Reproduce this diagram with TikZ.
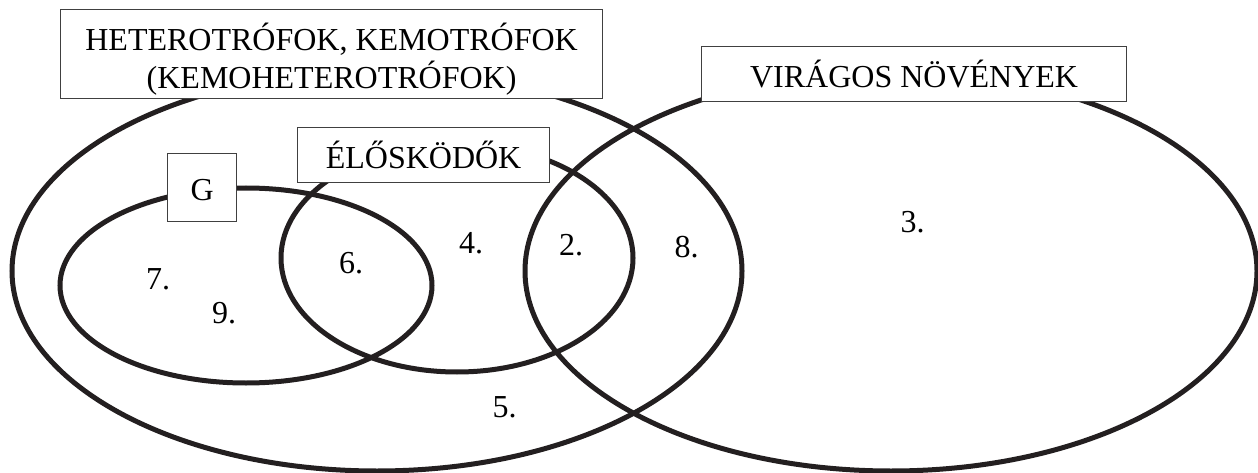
\documentclass[tikz,border=0pt]{standalone}
\usepackage{fontspec}
\setmainfont{Liberation Serif}
\usetikzlibrary{shapes.geometric}
\definecolor{ink}{HTML}{231F20}
\definecolor{frame}{HTML}{404040}
\begin{document}
\begin{tikzpicture}[x=1pt,y=-1pt,
  set/.style={draw=ink, line width=5pt, ellipse, inner sep=0pt},
  labelbox/.style={draw=frame, line width=1.2pt, fill=white, inner sep=0pt,
    font=\fontsize{32}{38}\selectfont, anchor=north west},
  num/.style={font=\fontsize{32}{38}\selectfont, anchor=base, inner sep=0pt}]
\useasboundingbox (0,0) rectangle (1258,473);
% sets
\node[set, minimum width=730pt, minimum height=400pt] (het) at (377,271) {};
\node[set, minimum width=732pt, minimum height=400pt] (vir) at (891,271) {};
\node[set, minimum width=352pt, minimum height=228pt] (elo) at (457,258) {};
\node[set, minimum width=372pt, minimum height=195pt] (g) at (246,285.5) {};
% label boxes
\node[labelbox, align=center, minimum width=542pt, minimum height=89pt] (hetbox) at (60,9)
  {\rule{0pt}{41pt}HETEROTRÓFOK, KEMOTRÓFOK\\(KEMOHETEROTRÓFOK)\rule[-10pt]{0pt}{10pt}};
\node[labelbox, minimum width=425pt, minimum height=55pt, text height=41pt, text depth=14pt] (virbox) at (701,46) {VIRÁGOS NÖVÉNYEK};
\node[labelbox, minimum width=252pt, minimum height=55pt, text height=41pt, text depth=14pt] (elobox) at (297,127) {ÉLŐSKÖDŐK};
\node[labelbox, minimum width=69pt, minimum height=68pt, text height=47pt, text depth=21pt] (gbox) at (167,153) {G};
% region numbers
\node[num] (n7) at (158,289) {7.};
\node[num] (n9) at (224,323) {9.};
\node[num] (n6) at (351,273) {6.};
\node[num] (n4) at (471,253) {4.};
\node[num] (n2) at (571,255) {2.};
\node[num] (n8) at (686.5,257) {8.};
\node[num] (n3) at (912.5,233) {3.};
\node[num] (n5) at (504.5,417) {5.};
\end{tikzpicture}
\end{document}
